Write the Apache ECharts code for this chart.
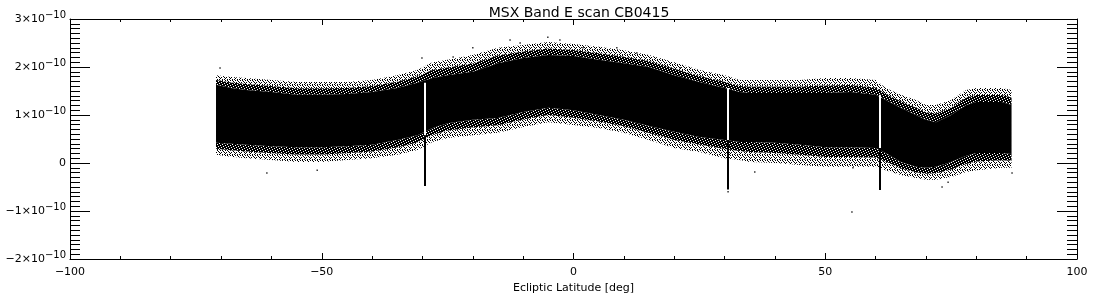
<!DOCTYPE html>
<html>
<head>
<meta charset="utf-8">
<script src="https://cdn.jsdelivr.net/npm/echarts@6/dist/echarts.min.js"></script>
<style>html,body{margin:0;padding:0;background:#fff}#c{width:1100px;height:300px}</style>
</head>
<body>
<div id="c"></div>
<script>
// Ecliptic latitude sample positions (deg)
const latitude = [-71,-68,-65,-60,-55,-50,-45,-40,-35,-31,-28,-25,-20,-15,-10,-5,0,5,10,15,20,25,30,33,35,40,45,50,55,60,62,65,68,70,72,75,78,80,85,87];
// Envelopes of the point cloud, in units of 1e-10
const fringeTop = [1.83,1.79,1.77,1.73,1.69,1.69,1.69,1.73,1.83,1.94,2.10,2.15,2.25,2.40,2.46,2.52,2.48,2.42,2.35,2.25,2.10,1.94,1.83,1.73,1.73,1.73,1.73,1.77,1.77,1.73,1.56,1.42,1.31,1.21,1.21,1.31,1.52,1.56,1.56,1.52];
const coreTop   = [1.63,1.56,1.52,1.48,1.42,1.42,1.44,1.48,1.56,1.67,1.77,1.83,1.90,2.08,2.19,2.25,2.23,2.15,2.08,2.00,1.83,1.69,1.56,1.48,1.46,1.46,1.46,1.46,1.48,1.42,1.31,1.15,1.00,0.90,0.85,1.00,1.21,1.27,1.27,1.21];
const coreBottom= [0.42,0.40,0.38,0.35,0.33,0.33,0.35,0.38,0.48,0.58,0.73,0.83,0.90,0.94,1.06,1.15,1.10,1.00,0.90,0.77,0.65,0.54,0.48,0.44,0.44,0.42,0.38,0.33,0.33,0.31,0.21,0.02,-0.08,-0.10,-0.08,0.02,0.15,0.21,0.21,0.19];
const fringeBottom=[0.17,0.13,0.10,0.06,0.02,0.02,0.06,0.10,0.17,0.27,0.44,0.52,0.58,0.63,0.75,0.85,0.79,0.73,0.63,0.48,0.31,0.23,0.10,0.06,0.02,0.00,-0.04,-0.08,-0.08,-0.08,-0.15,-0.25,-0.31,-0.35,-0.35,-0.29,-0.19,-0.15,-0.10,-0.10];
// Data gaps with negative spikes beneath them
const gapLatitude = [-29.5, 30.7, 60.9];
const spikeBottom = [-0.48, -0.55, -0.56];
// Isolated outlying points [latitude, value in 1e-10]
const outliers = [[-5.1,2.62],[-12.6,2.56],[-2.7,2.56],[-10.6,2.50],[-20.0,2.40],[8.6,2.40],[1.9,2.40],[12.6,2.29],[-30.1,2.19],[-23.9,2.21],[21.2,1.98],[-70.2,1.98],[55.3,-1.02],[-60.9,-0.21],[-50.9,-0.15],[30.7,-0.60],[36.0,-0.19],[55.5,-0.10],[73.2,-0.50],[74.4,-0.40],[87.1,-0.21]];
// Axis tick values
const xTicks = [-100,-50,0,50,100];
const yTicks = [-2,-1,0,1,2,3];

function makePattern(size, pts, invert){
  const c = document.createElement('canvas');
  c.width = size; c.height = size;
  const g = c.getContext('2d');
  if (invert) { g.fillStyle = '#000'; g.fillRect(0,0,size,size); g.fillStyle = '#fff'; }
  else g.fillStyle = '#000';
  pts.forEach(p => g.fillRect(p[0], p[1], 1, 1));
  return {image: c, repeat: 'repeat'};
}
// dense: mostly black with a few white holes
const densePat = makePattern(5, [[0,0],[3,1],[1,2],[4,3],[2,4]], true);
// sparse: scattered black dots
const sparsePat = makePattern(5, [[0,0],[2,0],[3,1],[1,2],[4,2],[0,3],[2,4],[4,4]], false);

const FONT = 'DejaVu Sans';
function yLabel(v){
  if (v === 0) return '0';
  const s = (v < 0 ? '\u2212' : '') + Math.abs(v);
  return '{m|' + s + '\u00d710}{s|\u221210}';
}

function renderCloud(params, api){
  const children = [];
  const n = latitude.length;
  function band(upper, lower, fill){
    const pts = [];
    for (let i = 0; i < n; i++) pts.push(api.coord([latitude[i], upper[i]]));
    for (let i = n - 1; i >= 0; i--) pts.push(api.coord([latitude[i], lower[i]]));
    children.push({type:'polygon', shape:{points:pts}, style:{fill:fill}});
  }
  const midTop = fringeTop.map((v,i)=> (v + coreTop[i]) / 2);
  const midBot = fringeBottom.map((v,i)=> (v + coreBottom[i]) / 2);
  band(fringeTop, midTop, sparsePat);
  band(midTop, coreTop, densePat);
  band(coreBottom, midBot, densePat);
  band(midBot, fringeBottom, sparsePat);
  band(coreTop, coreBottom, '#000');
  gapLatitude.forEach((g, k) => {
    let j = 0;
    for (let i = 0; i < n; i++) if (Math.abs(latitude[i]-g) < Math.abs(latitude[j]-g)) j = i;
    const a = api.coord([g, coreTop[j]]);
    const b = api.coord([g, coreBottom[j]]);
    const c = api.coord([g, spikeBottom[k]]);
    children.push({type:'rect', shape:{x:Math.round(a[0])-1, y:a[1], width:2, height:b[1]-a[1]}, style:{fill:'#fff'}});
    children.push({type:'rect', shape:{x:Math.round(a[0])-1, y:b[1], width:2, height:c[1]-b[1]}, style:{fill:'#000'}});
  });
  return {type:'group', children};
}

const axisCommon = {
  type:'value', min:-100, max:100, interval:50,
  axisLine:{show:true, onZero:false, lineStyle:{color:'#000', width:1}},
  axisTick:{show:true, inside:true, length:6, lineStyle:{color:'#000'}},
  minorTick:{show:true, splitNumber:5, length:3, lineStyle:{color:'#000'}},
  splitLine:{show:false}
};
const yCommon = {
  type:'value', min:-2, max:3, interval:1,
  axisLine:{show:true, onZero:false, lineStyle:{color:'#000', width:1}},
  axisTick:{show:true, inside:true, length:20, lineStyle:{color:'#000'}},
  minorTick:{show:true, splitNumber:10, length:10, lineStyle:{color:'#000'}},
  splitLine:{show:false}
};

const chart = echarts.init(document.getElementById('c'), null, {renderer:'canvas'});
chart.setOption({
  animation:false,
  backgroundColor:'#fff',
  title:{text:'MSX Band E scan CB0415', left:574, textAlign:'center', top:1,
    textStyle:{fontFamily:FONT, fontSize:14, fontWeight:'normal', color:'#000'}},
  grid:{left:70, right:23, top:19, bottom:41},
  xAxis:[
    Object.assign({}, axisCommon, {position:'bottom',
      name:'Ecliptic Latitude [deg]', nameLocation:'middle', nameGap:21,
      nameTextStyle:{fontFamily:FONT, fontSize:11, color:'#000'},
      axisLabel:{show:true, margin:8, fontFamily:FONT, fontSize:11, color:'#000',
        customValues: xTicks, formatter:v => (v<0?'\u2212':'') + Math.abs(v)}}),
    Object.assign({}, axisCommon, {position:'top', axisLabel:{show:false}})
  ],
  yAxis:[
    Object.assign({}, yCommon, {position:'left',
      axisLabel:{show:true, margin:4, color:'#000', customValues: yTicks, formatter:yLabel,
        fontFamily:FONT, fontSize:11,
        rich:{m:{fontFamily:FONT, fontSize:11, color:'#000'},
              s:{fontFamily:FONT, fontSize:10, color:'#000', padding:[0,0,8,0]}}}}),
    Object.assign({}, yCommon, {position:'right', axisLabel:{show:false}})
  ],
  series:[
    {type:'custom', xAxisIndex:0, yAxisIndex:0, data:[[0,0]], renderItem:renderCloud, silent:true, clip:true},
    {type:'scatter', xAxisIndex:0, yAxisIndex:0, data:outliers, symbol:'rect', symbolSize:1.5,
      itemStyle:{color:'#000'}, silent:true}
  ]
});
</script>
</body>
</html>
